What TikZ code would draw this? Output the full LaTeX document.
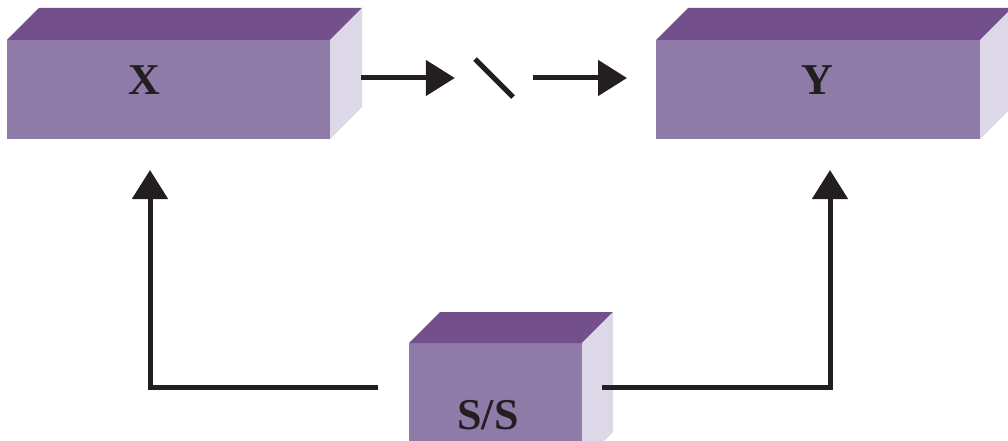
\documentclass[tikz,border=0pt]{standalone}
\usepackage{fontspec}
\setmainfont{Liberation Serif}
\usetikzlibrary{arrows.meta,calc}
\definecolor{frontc}{RGB}{143,123,168}
\definecolor{topc}{RGB}{115,80,140}
\definecolor{sidec}{RGB}{221,216,232}
\definecolor{inkc}{RGB}{35,31,32}
\tikzset{
  boxfront/.style={fill=frontc, draw=none, inner sep=0pt, outer sep=0pt},
  boxlabel/.style={inner sep=0pt, anchor=base, text=inkc,
    font=\bfseries\fontsize{44}{44}\selectfont},
  arr/.style={draw=inkc, line width=5pt,
    -{Triangle[length=29pt,width=35pt]}},
  wire/.style={draw=inkc, line width=5pt},
}
\begin{document}
\begin{tikzpicture}[x=1pt,y=-1pt]
\useasboundingbox (0,0) rectangle (1008,441);
\clip (0,0) rectangle (1008,441);

% front faces of the three blocks
\node[boxfront, minimum width=323pt, minimum height=99pt] (X) at (168.5,89.5) {};
\node[boxfront, minimum width=324pt, minimum height=99pt] (Y) at (818,89.5) {};
\node[boxfront, minimum width=173pt, minimum height=120pt] (S) at (495.5,403) {};

% top and side faces
\foreach \n/\d in {X/32,Y/32,S/31}{
  \fill[topc] (\n.north west) -- (\n.north east) -- ++(\d,-\d)
    -- ($(\n.north west)+(\d,-\d)$) -- cycle;
  \fill[sidec] (\n.north east) -- (\n.south east) -- ++(\d,-\d)
    -- ($(\n.north east)+(\d,-\d)$) -- cycle;
}

% block labels
\node[boxlabel] (xl) at (144,95) {X};
\node[boxlabel] (yl) at (817,95) {Y};
\node[boxlabel] (sl) at (488,429) {S/S};

% switch between X and Y
\node[inner sep=0pt, minimum width=78pt, minimum height=38pt] (sw) at (494,78) {};
\draw[wire, line cap=butt] ($(sw.center)+(-19,-19)$) -- ($(sw.center)+(19,19)$);

% signal path X -> switch -> Y
\draw[arr] ($(X.east |- sw.west)+(31,0)$) -- (sw.west);
\draw[arr, shorten >=29pt] (sw.east) -- (sw.east -| Y.west);

% feedback from S/S to X and Y
\draw[arr] ($(S.west)+(-31,-16)$) -| ($(X.south)+(-18.5,31)$);
\draw[arr] ($(S.east)+(20,-16)$) -| ($(Y.south)+(12,31)$);
\end{tikzpicture}
\end{document}
